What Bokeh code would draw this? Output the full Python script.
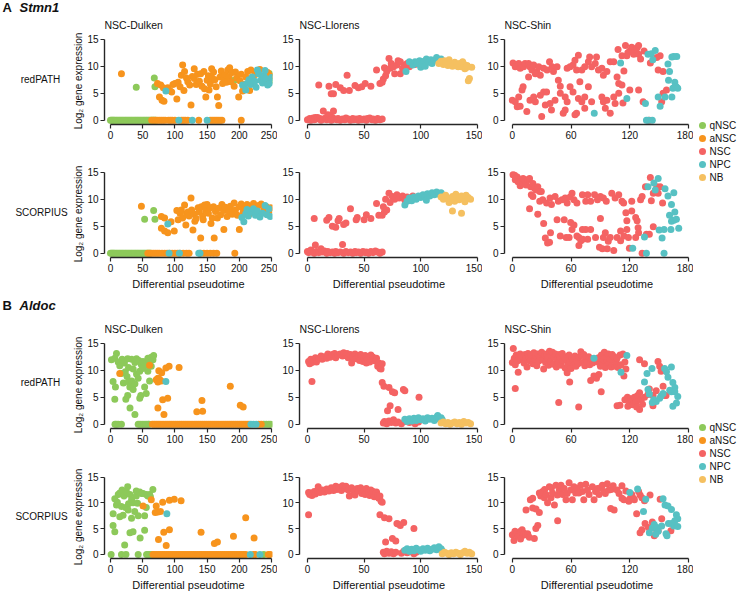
from bokeh.plotting import figure
from bokeh.layouts import row, column
from bokeh.models import Range1d, FixedTicker
from bokeh.core.properties import value
from bokeh.embed import file_html
from bokeh.resources import INLINE

FONT = "Liberation Sans"
CATEGORIES = ["qNSC", "aNSC", "NSC", "NPC", "NB"]
COLORS = {"qNSC": "#8DC95A", "aNSC": "#F7941D", "NSC": "#F46363", "NPC": "#57C1C3", "NB": "#F5C060"}

# ---------------- Stmn1 / NSC-Dulken / redPATH ----------------
S_DUL_RED_Q = [(40, 6.1), (68, 7.8), (69, 6.2), (192, 7.4), (247, 8.6), (248, 7.3)]
S_DUL_RED_Q0 = [0, 1.5, 3, 4.5, 6, 8, 10, 12, 14, 16, 18, 20, 22, 24, 26, 28, 30, 32, 34, 36, 38, 40, 42, 44,
                46, 48, 50, 52, 54, 56, 58, 60, 62, 64, 66, 68, 70]
S_DUL_RED_A = [(17, 8.6), (73, 6.8), (76, 4.3), (80, 3.7), (83, 3.5), (78, 6.5), (82, 6.0), (89, 6.0), (92, 5.5),
               (97, 6.6), (100, 6.8), (95, 5.2), (103, 3.9), (105, 7.0), (108, 6.2), (110, 8.3), (112, 10.2),
               (114, 5.5), (115, 9.0), (118, 7.8), (120, 7.1), (123, 6.5), (125, 2.8), (127, 8.1), (130, 7.7),
               (130, 9.5), (133, 6.6), (135, 8.5), (138, 7.2), (140, 8.6), (142, 6.3), (145, 9.0), (146, 5.8),
               (148, 4.3), (150, 7.4), (152, 8.2), (153, 5.6), (155, 6.7), (157, 9.5), (158, 7.8), (160, 8.9),
               (162, 7.5), (164, 6.2), (166, 4.3), (168, 2.7), (170, 8.0), (172, 9.1), (174, 6.8), (176, 7.6),
               (178, 8.4), (180, 7.0), (182, 9.3), (184, 8.1), (185, 9.7), (187, 7.1), (189, 8.8), (192, 6.3),
               (194, 8.9), (196, 7.8), (199, 4.3), (201, 7.3), (203, 8.5), (205, 5.4), (207, 6.6), (210, 8.0),
               (213, 9.0), (216, 5.5), (218, 9.3), (221, 7.7), (224, 8.4), (228, 8.9), (232, 9.4), (236, 8.1),
               (240, 7.6), (244, 8.8), (248, 8.2)]
S_DUL_RED_A0 = [64, 67, 70, 73, 76, 79, 82, 85, 90, 93, 96, 100, 110, 113, 116, 120, 137, 155, 158, 161, 164,
                167, 170, 173, 203]
S_DUL_RED_P = [(86, 5.4), (205, 6.5), (210, 5.6), (212, 6.8), (215, 7.5), (218, 6.6), (220, 8.0), (224, 7.2),
               (226, 6.1), (228, 9.3), (230, 8.6), (233, 7.4), (236, 6.9), (238, 8.2), (240, 9.2), (241, 7.7),
               (244, 6.5), (247, 6.8), (250, 7.9)]
S_DUL_RED_P0 = [106, 127, 150]

# ---------------- Stmn1 / NSC-Dulken / SCORPIUS ----------------
S_DUL_SCO_Q = [(53, 6.3), (67, 7.9), (69, 6.3)]
S_DUL_SCO_Q0 = [0, 1.5, 3, 4.5, 6, 8, 10, 12, 14, 16, 18, 20, 22, 24, 26, 28, 30, 32, 34, 36, 38, 40, 42, 44,
                46, 48, 50, 52, 54, 56, 58, 60, 62]
S_DUL_SCO_A = [(48, 8.7), (79, 6.8), (84, 6.5), (94, 5.8), (79, 4.6), (84, 4.1), (89, 3.8), (99, 4.1), (103, 7.9),
               (105, 6.2), (108, 7.4), (110, 8.0), (112, 6.5), (115, 8.9), (117, 5.2), (118, 7.3), (120, 7.6),
               (122, 6.9), (125, 10.2), (126, 8.0), (128, 4.3), (130, 7.2), (131, 5.9), (133, 6.4), (136, 8.4),
               (138, 7.6), (140, 2.8), (141, 8.6), (143, 6.9), (144, 6.2), (146, 8.9), (148, 7.9), (150, 9.0),
               (152, 7.4), (155, 8.4), (156, 5.5), (158, 6.5), (160, 8.6), (161, 2.8), (163, 7.7), (166, 6.5),
               (168, 8.3), (171, 7.1), (173, 9.0), (176, 4.4), (176, 7.9), (178, 8.5), (181, 6.8), (184, 7.8),
               (186, 8.7), (189, 7.2), (192, 9.3), (194, 8.0), (197, 7.0), (200, 4.4), (200, 8.6), (203, 9.1),
               (206, 7.6), (209, 8.3), (212, 9.0), (215, 7.2), (218, 8.7), (222, 9.2), (226, 7.9), (230, 8.8),
               (234, 9.1), (238, 8.0), (242, 8.6), (246, 7.6), (249, 8.4)]
S_DUL_SCO_A0 = [58, 61, 64, 67, 70, 73, 76, 80, 84, 88, 92, 96, 100, 104, 108, 113, 118, 122, 140, 145, 150, 155,
                160, 165, 193]
S_DUL_SCO_P = [(89, 5.4), (204, 6.6), (207, 5.8), (210, 7.3), (212, 8.1), (214, 6.9), (218, 7.6), (222, 8.2),
               (225, 7.0), (228, 7.8), (232, 6.7), (236, 7.4), (240, 8.8), (243, 7.1), (246, 8.2), (248, 6.8)]
S_DUL_SCO_P0 = [91, 107, 137, 139]

# ---------------- Stmn1 / NSC-Llorens / redPATH ----------------
S_LLO_RED_S = [(0, 0.1), (2, 0.3), (3, 0.0), (5, 0.4), (6, 0.1), (7, 0.5), (8, 0.2), (9, 0.5), (11, 0.3),
               (12, 0.0), (14, 0.2), (14, 1.7), (16, 0.4), (17, 0.1), (18, 1.0), (19, 0.3), (20, 0.9), (21, 0.0),
               (22, 0.5), (23, 1.7), (24, 0.2), (26, 0.1), (27, 0.3), (29, 0.0), (31, 0.2), (33, 0.1), (34, 0.4),
               (36, 0.2), (38, 0.0), (40, 0.3), (41, 0.1), (43, 0.2), (45, 0.0), (46, 0.3), (48, 0.1), (50, 0.2),
               (52, 0.0), (53, 0.3), (55, 0.4), (57, 0.1), (58, 0.2), (60, 0.0), (62, 0.3), (64, 0.1), (66, 0.2),
               (10, 6.5), (19, 6.3), (21, 4.9), (23, 4.9), (25, 6.6), (29, 6.0), (32, 5.5), (35, 8.3), (37, 5.5),
               (42, 6.4), (45, 6.0), (48, 6.2), (51, 6.8), (56, 6.3), (61, 9.3), (64, 6.8), (66, 7.0), (67, 7.6),
               (68, 9.7), (69, 8.2), (70, 9.0), (72, 11.4), (73, 9.6), (74, 10.5), (76, 9.9), (77, 8.6),
               (79, 10.2), (80, 11.0), (82, 10.8), (82, 8.6), (84, 9.6), (86, 10.2), (88, 10.5), (90, 9.9),
               (92, 10.5), (95, 10.3)]
S_LLO_RED_P = [(87, 9.0), (90, 10.8), (93, 10.2), (95, 10.8), (97, 10.5), (99, 11.0), (100, 9.8), (101, 10.4),
               (103, 10.9), (104, 10.0), (105, 11.3), (107, 10.7), (109, 11.2), (110, 10.5), (112, 11.1),
               (114, 11.6), (116, 11.0), (118, 11.3)]
S_LLO_RED_B = [(116, 10.5), (118, 10.9), (120, 10.3), (121, 11.0), (122, 10.8), (124, 10.1), (125, 11.2),
               (126, 10.6), (128, 10.0), (130, 10.7), (132, 10.2), (133, 9.9), (134, 10.5), (136, 9.9),
               (137, 10.8), (138, 10.4), (139, 9.5), (140, 9.7), (141, 10.1), (142, 7.3), (143, 7.7), (145, 9.8)]

# ---------------- Stmn1 / NSC-Llorens / SCORPIUS ----------------
S_LLO_SCO_S = [(0, 0.3), (1, 0.1), (3, 0.6), (4, 0.2), (6, 0.0), (7, 1.5), (8, 0.3), (10, 0.1), (12, 0.8),
               (13, 0.2), (15, 0.4), (17, 0.0), (18, 0.3), (20, 0.1), (22, 0.2), (24, 0.0), (25, 0.3), (27, 0.1),
               (29, 0.2), (31, 1.6), (32, 0.0), (34, 0.3), (36, 0.1), (38, 0.2), (40, 0.0), (42, 0.3), (43, 0.1),
               (45, 0.2), (47, 0.0), (49, 0.3), (51, 0.1), (52, 0.2), (54, 0.0), (56, 0.3), (58, 0.1), (60, 0.4),
               (62, 0.2), (64, 0.0), (66, 0.2),
               (6, 6.4), (17, 6.1), (19, 6.6), (22, 5.0), (25, 4.8), (27, 6.0), (28, 6.4), (32, 5.3), (34, 5.6),
               (38, 8.2), (43, 6.2), (44, 6.6), (50, 6.2), (52, 7.1), (56, 6.4), (61, 9.2), (63, 7.0), (66, 7.0),
               (67, 8.6), (68, 7.6), (69, 10.0), (70, 8.0), (72, 11.1), (73, 9.4), (75, 10.5), (77, 10.0),
               (79, 10.8), (81, 10.2), (84, 10.6), (86, 9.8), (88, 10.4), (91, 10.1), (93, 10.6)]
S_LLO_SCO_P = [(86, 8.9), (88, 9.6), (90, 10.2), (92, 9.7), (94, 10.4), (96, 10.0), (98, 10.6), (100, 10.3),
               (102, 10.8), (104, 10.4), (105, 9.8), (106, 11.0), (108, 10.6), (110, 11.2), (112, 10.8),
               (114, 11.3), (116, 10.9), (118, 11.2), (120, 10.7)]
S_LLO_SCO_B = [(118, 10.4), (120, 10.0), (122, 10.7), (124, 10.2), (125, 9.4), (126, 9.8), (128, 10.5),
               (128, 7.8), (130, 9.6), (131, 10.9), (132, 10.3), (134, 9.9), (136, 10.6), (136, 7.4), (138, 10.1),
               (139, 9.5), (140, 10.7), (142, 10.3), (144, 10.0)]

# ---------------- Stmn1 / NSC-Shin / redPATH ----------------
S_SHI_RED_S = [(0.7, 10.6), (3, 9.9), (6.5, 10.5), (8, 9.6), (11.5, 9.9), (13, 10.5), (16.6, 10.5), (18, 9.9),
               (20, 9.3), (21.8, 10.2), (25, 9.0), (27, 9.9), (28.6, 8.3), (32, 9.6), (35.5, 9.3), (38, 10.8),
               (40.6, 9.9), (42, 9.0), (45.7, 9.9), (16.6, 8.0), (23.5, 8.6),
               (0, 3.7), (3, 3.4), (5, 2.5), (8, 2.6), (6.5, 4.3), (9.9, 5.6), (11, 6.2), (14.8, 1.6), (18, 3.7),
               (21.8, 4.3), (23.5, 3.4), (28.6, 4.6), (30, 0.7), (32, 5.2), (35, 5.2), (33.7, 2.8), (38.5, 3.1),
               (40, 1.9), (43.6, 3.7), (47, 7.4), (49, 5.0), (49, 6.3), (52, 1.3), (54, 1.9), (56, 3.4), (54, 4.3),
               (59, 6.2), (62, 5.2), (64, 1.0), (65.6, 1.3), (67.5, 4.0), (69, 7.1), (71, 3.4), (74, 4.3),
               (74, 2.2), (77.7, 6.2), (81, 3.4), (91.5, 4.3), (93, 3.4), (95, 2.2), (96.6, 3.7), (100, 1.3),
               (103.6, 4.3), (105, 3.1), (108.7, 5.0), (113, 3.2), (120, 5.6),
               (56, 9.6), (59, 9.9), (62, 10.2), (64, 11.1), (67.5, 12.0), (65.6, 9.3), (71, 9.3), (74, 9.9),
               (77.7, 10.8), (79, 11.7), (81, 9.9), (84.7, 10.5), (86, 11.7), (88, 9.3), (91.5, 9.6), (93, 8.3),
               (96.6, 9.0), (100, 10.8), (103.6, 10.8), (107, 8.0), (108.7, 6.8), (112, 6.5), (114, 9.1),
               (108, 13.1), (112, 11.9), (115.6, 13.8), (117, 11.9), (118, 12.5), (120, 12.8), (122, 13.5),
               (124, 12.2), (125.7, 13.1), (127.5, 13.4), (129, 12.2), (129, 13.8), (131, 11.3), (134.6, 12.8),
               (129, 5.6), (133.6, 3.4), (140, 0.0), (141, 10.6), (147.6, 11.6), (151, 11.9), (149, 9.3),
               (154, 9.0), (154, 5.0), (157.5, 5.6), (152.6, 3.4)]
S_SHI_RED_P = [(83.7, 1.3), (117, 4.0), (110.6, 10.6), (136, 3.1), (137, 0.0), (139, 0.0), (143, 0.0),
               (138.6, 12.2), (142, 12.3), (146, 12.9), (143.5, 11.2), (159, 10.4), (163, 11.7), (165, 11.8),
               (168, 11.8), (160.6, 9.0), (159.6, 7.4), (166, 7.0), (164, 5.9), (167.5, 6.2), (169, 5.9),
               (163, 4.3), (156, 4.3), (151, 2.6), (149, 4.3)]

# ---------------- Stmn1 / NSC-Shin / SCORPIUS ----------------
S_SHI_SCO_S = [(0.7, 14.5), (2.4, 14.4), (3, 13.6), (5, 14.1), (7.5, 13.6), (5.8, 13.2), (8, 12.5), (9, 13.2),
               (10.9, 12.9), (11, 13.8), (12.6, 13.6), (14, 12.6), (16, 13.6), (17.6, 13.8), (18.7, 12.3),
               (21, 12.9), (22.7, 12.0), (24.5, 11.7), (26, 12.3), (28, 11.4), (19.4, 10.8), (21, 10.5),
               (29.6, 11.4),
               (28, 9.6), (31, 9.9), (35, 9.3), (38.5, 10.2), (40, 9.0), (43.7, 10.5), (47, 9.6), (50.7, 9.9),
               (54, 10.2), (56, 9.3), (59, 10.4), (61, 11.1), (63, 9.9), (66, 9.3), (71.6, 10.8), (75, 9.6),
               (77, 10.8), (80, 9.6), (84, 10.8), (87, 9.9), (90, 10.5), (93, 10.2), (96, 9.6), (101.6, 11.1),
               (105, 10.2), (108.7, 10.8), (112, 9.6), (113.7, 9.3), (122, 9.6), (131, 9.9), (132.6, 10.5),
               (17.6, 8.2), (26, 7.2), (32, 5.5), (33.7, 2.8), (36, 1.9), (38, 2.0), (39, 3.8), (45.7, 6.2),
               (49, 3.2), (53, 6.2), (55, 2.9), (58, 2.9), (59.6, 5.7), (61, 4.4), (63, 5.2), (66, 3.2),
               (68, 1.4), (68, 2.9), (70, 2.3), (71.6, 4.4), (72, 2.6), (75, 4.4), (77, 2.6), (80, 4.4),
               (85, 2.9), (89, 1.1), (90, 6.4), (92, 0.8), (93, 2.9), (95, 3.8), (97, 0.8), (98, 2.2),
               (100, 2.9), (103.6, 0.5), (107, 2.9), (110.6, 4.1), (110.6, 2.3), (114, 3.2), (117, 4.4),
               (118.6, 2.9), (117, 6.0), (116, 7.5), (122, 7.8), (126, 6.6), (127.5, 6.0), (128.5, 4.7),
               (129, 3.8), (126, 2.9), (119.6, 0.9), (132.6, 0.0),
               (136, 12.3), (141, 14.0), (144, 11.1), (147.6, 12.3), (149, 11.1), (142, 9.7), (153.5, 9.3),
               (151, 12.3), (144, 4.9), (137, 3.5), (140, 3.5)]
S_SHI_SCO_P = [(123, 0.9), (135, 3.0), (137, 0.0), (155, 0.0), (138.6, 12.3), (144.6, 13.0), (149, 13.8),
               (146, 11.7), (156, 11.9), (159, 10.6), (165, 11.2), (162.6, 9.0), (160.6, 7.0), (166, 7.6),
               (165, 6.1), (162.6, 5.9), (167.6, 6.3), (170, 4.6), (162, 4.4), (155, 4.4), (150, 4.3), (153, 2.8)]

# ---------------- Aldoc / NSC-Dulken / redPATH ----------------
A_DUL_RED_Q = [(1.5, 11.9), (9.3, 13.1), (6.7, 12.2), (4, 7.9), (6.7, 4.6), (7.7, 6.9), (12, 11.5), (14.4, 10.8),
               (17, 9.4), (18, 12.0), (20, 7.6), (21.6, 11.3), (23, 9.7), (25.7, 8.8), (23.8, 4.6), (26.7, 5.3),
               (30, 6.9), (27.8, 7.8), (28, 10.5), (32.9, 8.0), (26.7, 12.1), (32.9, 12.0), (37.9, 11.4),
               (40.4, 12.1), (35.2, 10.2), (40.4, 9.3), (37.9, 7.5), (35.2, 6.4), (30.3, 3.0), (37.9, 1.8),
               (42.9, 8.5), (44, 11.8), (45.4, 9.8), (48, 11.0), (50, 10.3), (50.5, 11.6), (53, 6.9), (45.4, 4.8),
               (47, 5.3), (55.5, 11.0), (58, 12.2), (60.7, 11.6), (63.3, 12.4), (65.9, 11.9), (63.3, 10.7),
               (58, 9.8), (60.7, 8.0), (55.5, 5.7), (67, 12.7)]
A_DUL_RED_Q0 = [7, 9, 12, 17, 43, 46, 49, 52, 55, 58, 60, 238, 242, 246, 249]
A_DUL_RED_A = [(14.4, 9.4), (60.7, 10.9), (71, 8.2), (73.6, 8.5), (75, 9.9), (79.5, 9.5), (86, 10.4), (91, 10.7),
               (106.5, 10.5), (73.6, 7.8), (76, 8.3), (78.8, 8.0), (73.6, 3.0), (81, 4.5), (88.8, 4.8), (83, 1.8),
               (134, 2.3), (143, 2.4), (142, 4.4), (186, 7.0), (201.5, 3.5), (206, 3.2)]
A_DUL_RED_A0 = [65, 68, 71, 74, 77, 80, 83, 86, 89, 92, 95, 98, 101, 104, 107, 110, 113, 116, 119, 122, 125, 128,
                131, 134, 137, 140, 143, 146, 149, 152, 155, 158, 161, 164, 167, 170, 173, 176, 179, 182, 185,
                188, 191, 194, 197, 200, 203, 206, 209, 212, 215, 230, 234]
A_DUL_RED_P = [(86, 7.9)]
A_DUL_RED_P0 = [218, 222, 226]

# ---------------- Aldoc / NSC-Dulken / SCORPIUS ----------------
A_DUL_SCO_Q = [(4.1, 7.9), (6.7, 4.4), (4, 5.6), (6.7, 10.8), (12, 11.6), (14.4, 11.9), (9.3, 9.6), (10.6, 10.1),
               (14.4, 7.3), (17, 9.3), (18, 12.5), (19.5, 7.6), (21, 11.3), (22, 1.8), (24.8, 12.1), (26.7, 13.1),
               (28, 9.8), (30.2, 11.6), (32.7, 10.6), (23.4, 9.1), (27.4, 8.6), (32.7, 7.0), (30.2, 4.2),
               (35, 4.4), (35, 10.0), (37.6, 8.3), (40, 11.3), (40, 12.3), (42, 9.9), (43, 7.5), (45.4, 12.1),
               (48, 11.8), (50.6, 11.8), (53, 7.5), (55.6, 9.1), (46, 3.2), (53, 4.7), (55.6, 11.6), (58, 11.3),
               (60.7, 11.6), (62, 11.2), (65.8, 12.6)]
A_DUL_SCO_Q0 = [1, 17, 24, 43, 56, 58, 61, 64, 238]
A_DUL_SCO_A = [(50.6, 9.4), (63.3, 10.6), (71, 9.4), (69.5, 8.1), (73.6, 8.2), (77.6, 8.3), (81, 10.1),
               (91.5, 10.5), (99, 10.7), (109.6, 10.4), (74.5, 2.9), (82.7, 4.3), (91.5, 4.8), (86.5, 1.7),
               (140.6, 4.3), (161.3, 2.1), (166, 2.4), (190.9, 3.5), (209.9, 7.1), (222.9, 3.2)]
A_DUL_SCO_A0 = [66, 69, 72, 75, 78, 81, 84, 87, 90, 93, 96, 99, 102, 105, 108, 111, 114, 117, 120, 123, 126,
                129, 132, 135, 138, 141, 144, 147, 150, 153, 156, 159, 162, 165, 168, 171, 174, 177, 180, 183,
                186, 189, 192, 195, 198, 201, 204, 207, 210, 222, 225, 245, 248]
A_DUL_SCO_P = [(87.5, 7.9)]
A_DUL_SCO_P0 = [217, 232]

# ---------------- Aldoc / NSC-Llorens / redPATH ----------------
A_LLO_RED_S = [(1, 11.6), (2, 11.2), (3, 12.0), (4, 11.4), (5, 11.8), (7, 12.3), (8, 11.5), (10, 12.1),
               (12, 12.6), (13, 12.0), (15, 12.5), (17, 12.2), (18, 13.0), (20, 12.4), (22, 12.9), (24, 13.1),
               (25, 12.3), (27, 12.8), (29, 13.0), (31, 12.6), (32, 13.2), (34, 12.7), (35, 13.1), (36, 12.3),
               (38, 12.9), (39, 11.3), (40, 12.5), (42, 13.0), (43, 12.1), (45, 12.6), (46, 11.8), (47, 12.9),
               (49, 11.6), (50, 12.2), (51, 12.7), (52, 11.3), (53, 12.0), (55, 11.5), (56, 12.8), (57, 11.9),
               (58, 12.4), (60, 11.7), (61, 12.2), (62, 10.7), (63, 11.3), (64, 10.3), (65, 10.2), (66, 11.2),
               (4, 7.9), (66, 7.7), (67.5, 7.0), (72, 6.8), (75, 6.0), (77, 5.8), (84.7, 6.4), (86, 6.2),
               (98.5, 5.0), (73, 3.4), (70.7, 2.5), (80, 2.7),
               (67, 0.2), (68, 0.5), (70, 0.1), (72, 0.6), (74, 0.3), (76, 0.8), (78, 0.2), (80, 0.4), (83, 0.1),
               (86, 0.5), (90, 0.3), (93, 0.6), (95, 0.1), (98, 0.4)]
A_LLO_RED_P = [(86, 0.9), (88, 0.5), (90, 1.0), (92, 0.6), (94, 1.1), (96, 0.7), (98, 1.2), (100, 0.8),
               (102, 1.0), (104, 0.6), (106, 1.2), (108, 0.9), (110, 1.1), (112, 0.7), (114, 1.3), (115, 1.6),
               (116, 1.0), (118, 1.2), (119, 0.8)]
A_LLO_RED_B = [(118, 0.2), (120, 0.4), (122, 0.1), (124, 0.3), (126, 0.0), (128, 0.2), (130, 0.4), (132, 0.1),
               (134, 0.3), (136, 0.0), (138, 0.5), (140, 0.2), (142, 0.3), (144, 0.1)]

# ---------------- Aldoc / NSC-Llorens / SCORPIUS ----------------
A_LLO_SCO_S = [(1, 12.0), (2, 11.6), (3, 11.9), (4, 11.4), (6, 12.2), (7, 11.7), (9, 12.4), (9.5, 13.1),
               (11, 12.0), (13, 12.5), (15, 12.1), (17, 12.7), (19, 12.3), (21, 12.9), (23, 12.4), (25, 13.2),
               (26, 12.6), (28, 13.0), (30, 12.4), (31, 13.3), (33, 12.8), (34, 13.2), (36, 12.5), (37, 11.3),
               (39, 12.9), (41, 12.2), (42, 11.5), (44, 12.8), (45, 12.3), (47, 12.9), (48, 11.8), (50, 12.4),
               (51, 11.6), (52, 12.8), (54, 12.0), (55, 11.4), (56, 12.5), (57, 11.8), (58, 12.2), (59, 11.2),
               (60, 11.7), (61, 12.1), (62, 11.4), (63, 10.9), (64, 11.3), (65, 10.3), (66, 10.1),
               (1, 7.7), (64, 7.7), (68, 7.1), (72, 6.9), (79, 6.0), (80, 5.9), (82, 5.6), (85, 6.2), (94, 5.0),
               (75, 3.1), (78, 2.6), (69, 2.4),
               (67, 0.4), (68, 0.1), (70, 0.6), (72, 0.2), (74, 0.5), (76, 0.1), (78, 0.4), (83, 0.2), (85, 0.6),
               (88, 0.3), (91, 0.5), (94, 0.1), (96, 0.4)]
A_LLO_SCO_P = [(86, 0.8), (88, 1.1), (90, 0.6), (92, 1.0), (94, 0.7), (96, 1.2), (98, 0.9), (100, 0.6),
               (102, 1.1), (104, 0.8), (106, 1.2), (108, 0.7), (110, 1.0), (112, 1.3), (114, 0.9), (116, 1.5),
               (118, 1.1), (119, 0.7)]
A_LLO_SCO_B = [(119, 0.1), (121, 0.4), (123, 0.2), (125, 0.0), (127, 0.3), (129, 0.1), (131, 0.4), (133, 0.2),
               (135, 0.0), (137, 0.3), (139, 0.6), (141, 0.2), (143, 0.4), (145, 0.1)]

# ---------------- Aldoc / NSC-Shin / redPATH ----------------
A_SHI_RED_S = [(0, 11.4), (1, 14.0), (2, 12.2), (3, 11.0), (4, 12.8), (5, 11.7), (6, 9.6), (7, 12.5), (8, 13.0),
               (9, 11.9), (10, 12.6), (12, 11.3), (13, 12.9), (14, 12.1), (15, 10.6), (16, 13.1), (17, 12.4),
               (18, 11.7), (19, 12.8), (21, 11.2), (22, 13.2), (23, 12.0), (24, 12.6), (25, 10.8), (26, 13.0),
               (27, 11.7), (28, 12.5), (30, 13.3), (31, 11.9), (32, 10.2), (33, 12.8), (34, 11.4), (35, 13.0),
               (36, 12.2), (37, 10.9), (38, 13.5), (39, 11.6), (40, 12.7), (41, 13.3), (42, 11.1), (43, 12.4),
               (44, 13.0), (45, 10.6), (46, 12.0), (47, 11.3), (48, 12.9), (49, 12.3), (50, 10.9), (51, 13.1),
               (52, 11.8), (53, 12.5), (54, 10.4), (55, 12.1), (56, 9.5), (57, 11.0), (58, 12.8), (59, 11.5),
               (60, 10.3), (61, 12.3), (62, 11.8), (63, 11.0), (64, 12.6), (65, 10.7), (66, 11.9), (67, 11.2),
               (68, 12.4), (70, 13.4), (71, 12.7), (72, 11.4), (73, 12.9), (74, 10.8), (75, 12.2), (76, 11.6),
               (78, 12.5), (79, 11.0), (81, 12.0), (82, 11.3), (84, 11.9), (87, 11.5), (88, 12.3), (90, 10.7),
               (91, 12.8), (92, 11.2), (93, 11.9), (94, 13.3), (95, 10.5), (96, 12.4), (97, 11.7), (98, 13.0),
               (99, 11.3), (100, 12.1), (101, 10.6), (102, 12.9), (103, 11.8), (104, 12.5), (105, 10.7),
               (106, 11.4), (107, 12.2), (108, 10.5), (110, 12.8), (111, 11.0), (113, 13.0), (115, 11.5),
               (114, 8.9), (116, 10.2), (58.6, 7.8), (3, 6.6), (47.4, 4.0), (67.8, 3.2), (90.8, 6.0), (80, 8.1),
               (83.4, 8.9), (86, 8.5), (88.4, 9.2), (107, 3.4), (110, 3.5),
               (115, 4.5), (117.6, 5.0), (118, 3.3), (120, 3.9), (121, 4.7), (122, 4.3), (123, 3.6), (124.7, 5.0),
               (126.4, 4.1), (127, 3.2), (128, 5.3), (130, 5.8), (130, 2.7), (131.6, 4.5), (133, 3.7), (135, 5.0),
               (130, 11.9), (135, 11.2), (140, 6.5), (138.6, 5.5), (143.7, 5.3), (147, 6.2), (148.8, 11.6),
               (150.5, 10.7), (152, 9.8), (154, 7.0), (156, 5.3), (157, 5.3), (143.7, 3.4)]
A_SHI_RED_P = [(83.4, 12.2), (111, 9.6), (117, 12.7), (135, 7.8), (137.6, 9.4), (142.7, 10.3), (138.6, 6.4),
               (140, 5.6), (143, 4.0), (144.5, 4.5), (147, 4.2), (150.5, 4.8), (152, 5.2), (154, 5.7),
               (155.6, 10.3), (157.5, 9.7), (159, 8.7), (162.5, 10.6), (164, 7.7), (166, 6.8), (160.8, 6.3),
               (162.5, 6.0), (166, 6.0), (169, 5.1), (167.7, 3.9), (164, 3.3)]

# ---------------- Aldoc / NSC-Shin / SCORPIUS ----------------
A_SHI_SCO_S = [(0, 3.8), (1.7, 2.7), (2.7, 4.5), (5, 4.2), (6, 3.5), (8.4, 4.5), (10, 4.8), (11, 3.7), (8.4, 3.0),
               (12, 4.1), (14, 3.8), (15.7, 4.0), (17.4, 3.3), (22.5, 3.1), (24, 5.0), (26, 5.6), (14, 8.6),
               (18.4, 10.6), (20.8, 10.9), (20.8, 9.0), (24.2, 8.8), (27.6, 8.1), (27.6, 11.9), (29, 11.3),
               (31, 12.2), (32.7, 11.0), (33, 12.6), (34.4, 11.6), (36, 10.0), (37.8, 13.1), (39.5, 11.0),
               (40, 12.9), (41, 11.9), (43, 9.6), (44.6, 13.4), (46, 11.5), (46.3, 6.5), (48, 12.5), (49.7, 13.4),
               (51.4, 11.6), (53, 12.8), (54.8, 10.6), (56, 11.8), (58, 13.9), (59.6, 12.5), (61.3, 10.6),
               (63, 13.1), (64.7, 11.9), (66.4, 12.8), (68, 11.9), (69.8, 13.4), (71.6, 12.2), (73, 10.6),
               (75, 13.6), (76.7, 12.5), (78.4, 11.6), (81.8, 13.1), (83.5, 10.6), (85, 12.2), (87, 12.8),
               (88.6, 11.6), (90, 12.9), (92, 13.4), (93.7, 12.2), (95, 11.8), (97, 13.7), (98.8, 12.5),
               (100.5, 8.9), (101, 12.6), (103, 13.3), (104, 8.6), (107, 12.5), (109, 11.8), (112, 13.3),
               (112, 10.9), (114, 10.6), (116, 12.3), (119, 10.3), (120.5, 10.9), (122, 11.6), (123.7, 10.9),
               (124.7, 10.6), (129, 12.2), (130.5, 11.5), (132.4, 11.0), (135, 10.4), (127, 7.9), (130.5, 4.2),
               (132.4, 4.8), (135.6, 6.0), (139, 5.2), (140.7, 11.5), (143, 6.3), (145, 3.6), (147.6, 4.5),
               (149, 4.6), (151, 10.7), (152.6, 6.9), (162, 4.6)]
A_SHI_SCO_P = [(120, 12.0), (128, 12.7), (136.3, 10.7), (134, 8.3), (140, 4.2), (143, 5.1), (145, 5.8),
               (147.6, 5.2), (149, 4.5), (146.5, 3.9), (152.6, 5.5), (154, 10.8), (156, 9.6), (159, 9.4),
               (162.6, 8.7), (167.6, 7.7), (169, 6.9), (166, 6.5), (162.6, 6.0), (165, 5.5), (169, 5.4),
               (159.5, 6.0), (157, 4.0), (158, 3.6)]

# ---------------- axes ----------------
X_TICKS = {"NSC-Dulken": [0, 50, 100, 150, 200, 250], "NSC-Llorens": [0, 50, 100, 150],
           "NSC-Shin": [0, 60, 120, 180]}
X_RANGES = {"NSC-Dulken": (-9.3, 251.5), "NSC-Llorens": (-7, 151), "NSC-Shin": (-8, 181)}
Y_TICKS = [0, 5, 10, 15]
Y_RANGE = (-0.8, 15.3)
ROW_LABELS = ["redPATH", "SCORPIUS"]

# ---------------- layout geometry (px) ----------------
LABEL_W = 70
LEGEND_W = 45
FRAME_W = {"NSC-Dulken": 169, "NSC-Llorens": 179, "NSC-Shin": 185}
BORDER_L = {"NSC-Dulken": 33, "NSC-Llorens": 22, "NSC-Shin": 22}
BORDER_R = {"NSC-Dulken": 5, "NSC-Llorens": 4, "NSC-Shin": 4}
FRAME_H = 87
INK = "#262626"


def bare(p):
    p.grid.visible = False
    p.outline_line_color = None
    return p


def add_cat(p, cat, pts=(), zeros=()):
    xs = [q[0] for q in pts] + list(zeros)
    ys = [q[1] for q in pts] + [0] * len(zeros)
    if xs:
        p.scatter(xs, ys, size=7, fill_color=COLORS[cat], line_color=None)


def panel(ds, top, bottom, groups, title=None, xlabel=False):
    w = BORDER_L[ds] + FRAME_W[ds] + BORDER_R[ds]
    h = top + FRAME_H + bottom
    kw = dict(width=w, height=h, x_range=Range1d(*X_RANGES[ds]), y_range=Range1d(*Y_RANGE),
              output_backend="svg", toolbar_location=None,
              min_border_left=BORDER_L[ds], min_border_right=BORDER_R[ds],
              min_border_top=top, min_border_bottom=bottom)
    if title:
        kw["title"] = title
    p = bare(figure(**kw))
    if title:
        p.title.text_font = FONT
        p.title.text_font_size = "10.5px"
        p.title.text_font_style = "normal"
        p.title.text_color = "#111111"
        p.title.align = "left"
        p.title.standoff = 13
    p.xaxis.ticker = FixedTicker(ticks=X_TICKS[ds])
    p.yaxis.ticker = FixedTicker(ticks=Y_TICKS)
    p.xaxis.bounds = (X_TICKS[ds][0], X_TICKS[ds][-1])
    p.yaxis.bounds = (Y_TICKS[0], Y_TICKS[-1])
    for ax in (p.xaxis[0], p.yaxis[0]):
        ax.axis_line_color = INK
        ax.axis_line_width = 1.4
        ax.major_tick_line_color = INK
        ax.major_tick_line_width = 1.2
        ax.major_tick_out = 4
        ax.major_tick_in = 0
        ax.minor_tick_line_color = None
        ax.major_label_text_font = FONT
        ax.major_label_text_font_size = "10px"
        ax.major_label_text_color = "#111111"
        ax.major_label_standoff = 2
        ax.axis_label_text_font = FONT
        ax.axis_label_text_font_style = "normal"
        ax.axis_label_text_color = "#111111"
    if xlabel:
        p.xaxis.axis_label = "Differential pseudotime"
        p.xaxis.axis_label_text_font_size = "11px"
        p.xaxis.axis_label_standoff = 3
    if ds == "NSC-Dulken":
        p.yaxis.axis_label = "Log\u2082 gene expression"
        p.yaxis.axis_label_text_font_size = "10px"
        p.yaxis.axis_label_standoff = 0
    for cat in CATEGORIES:
        if cat in groups:
            pts, zeros = groups[cat]
            add_cat(p, cat, pts, zeros)
    return p


def label_fig(height, letter, gene, header_y, row_ys):
    # coordinate system: x = px from left, y = px from top of this strip
    p = bare(figure(width=LABEL_W, height=height, x_range=Range1d(0, LABEL_W), y_range=Range1d(height, 0),
                    output_backend="svg", toolbar_location=None, x_axis_location=None, y_axis_location=None,
                    min_border_left=0, min_border_right=0, min_border_top=0, min_border_bottom=0))
    p.text([2], [header_y], text=[letter], text_baseline="middle", text_align="left",
           text_font=value(FONT), text_font_size="13px", text_font_style="bold", text_color="#111111")
    p.text([19], [header_y], text=[gene], text_baseline="middle", text_align="left",
           text_font=value(FONT), text_font_size="13px", text_font_style="bold italic", text_color="#111111")
    p.text([40, 41], row_ys, text=ROW_LABELS, text_baseline="middle", text_align="center",
           text_font=value(FONT), text_font_size="10px", text_color="#111111")
    return p


def legend_fig(height, first_rel):
    step = 13.0
    end = -first_rel / step
    start = end + height / step
    p = bare(figure(width=LEGEND_W, height=height, x_range=Range1d(-9, LEGEND_W - 9),
                    y_range=Range1d(start, end),
                    output_backend="svg", toolbar_location=None, x_axis_location=None, y_axis_location=None,
                    min_border_left=0, min_border_right=0, min_border_top=0, min_border_bottom=0))
    idx = list(range(len(CATEGORIES)))
    p.scatter([0] * len(idx), idx, size=7, fill_color=[COLORS[c] for c in CATEGORIES], line_color=None)
    p.text([7] * len(idx), idx, text=CATEGORIES, text_baseline="middle", text_align="left",
           text_font=value(FONT), text_font_size="10px", text_color="#111111")
    return p


# row geometry: (top border, bottom border)
A1 = (37, 20)
A2 = (26, 36)
B1 = (48, 20)
B2 = (27, 31)

a_red = [
    panel("NSC-Dulken", *A1, {"qNSC": (S_DUL_RED_Q, S_DUL_RED_Q0), "aNSC": (S_DUL_RED_A, S_DUL_RED_A0),
                              "NPC": (S_DUL_RED_P, S_DUL_RED_P0)}, title="NSC-Dulken"),
    panel("NSC-Llorens", *A1, {"NSC": (S_LLO_RED_S, ()), "NPC": (S_LLO_RED_P, ()), "NB": (S_LLO_RED_B, ())},
          title="NSC-Llorens"),
    panel("NSC-Shin", *A1, {"NSC": (S_SHI_RED_S, ()), "NPC": (S_SHI_RED_P, ())}, title="NSC-Shin"),
]
a_sco = [
    panel("NSC-Dulken", *A2, {"qNSC": (S_DUL_SCO_Q, S_DUL_SCO_Q0), "aNSC": (S_DUL_SCO_A, S_DUL_SCO_A0),
                              "NPC": (S_DUL_SCO_P, S_DUL_SCO_P0)}, xlabel=True),
    panel("NSC-Llorens", *A2, {"NSC": (S_LLO_SCO_S, ()), "NPC": (S_LLO_SCO_P, ()), "NB": (S_LLO_SCO_B, ())},
          xlabel=True),
    panel("NSC-Shin", *A2, {"NSC": (S_SHI_SCO_S, ()), "NPC": (S_SHI_SCO_P, ())}, xlabel=True),
]
b_red = [
    panel("NSC-Dulken", *B1, {"qNSC": (A_DUL_RED_Q, A_DUL_RED_Q0), "aNSC": (A_DUL_RED_A, A_DUL_RED_A0),
                              "NPC": (A_DUL_RED_P, A_DUL_RED_P0)}, title="NSC-Dulken"),
    panel("NSC-Llorens", *B1, {"NSC": (A_LLO_RED_S, ()), "NPC": (A_LLO_RED_P, ()), "NB": (A_LLO_RED_B, ())},
          title="NSC-Llorens"),
    panel("NSC-Shin", *B1, {"NSC": (A_SHI_RED_S, ()), "NPC": (A_SHI_RED_P, ())}, title="NSC-Shin"),
]
b_sco = [
    panel("NSC-Dulken", *B2, {"qNSC": (A_DUL_SCO_Q, A_DUL_SCO_Q0), "aNSC": (A_DUL_SCO_A, A_DUL_SCO_A0),
                              "NPC": (A_DUL_SCO_P, A_DUL_SCO_P0)}, xlabel=True),
    panel("NSC-Llorens", *B2, {"NSC": (A_LLO_SCO_S, ()), "NPC": (A_LLO_SCO_P, ()), "NB": (A_LLO_SCO_B, ())},
          xlabel=True),
    panel("NSC-Shin", *B2, {"NSC": (A_SHI_SCO_S, ()), "NPC": (A_SHI_SCO_P, ())}, xlabel=True),
]

hA = sum(A1) + sum(A2) + 2 * FRAME_H
hB = sum(B1) + sum(B2) + 2 * FRAME_H
sectionA = row(label_fig(hA, "A", "Stmn1", 7, [79, 212]),
               column(row(*a_red), row(*a_sco)),
               legend_fig(hA, 125))
sectionB = row(label_fig(hB, "B", "Aldoc", 12, [89, 223]),
               column(row(*b_red), row(*b_sco)),
               legend_fig(hB, 134))
layout = column(sectionA, sectionB)

open("out.html", "w").write(file_html(layout, INLINE))
